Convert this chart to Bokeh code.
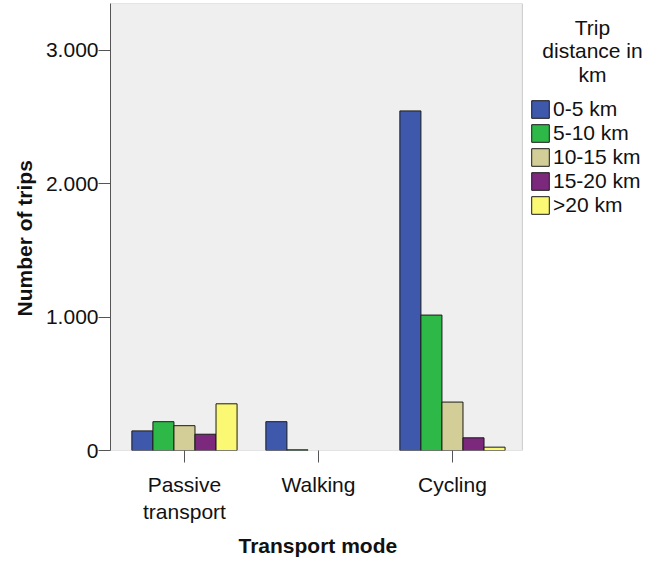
from bokeh.plotting import figure
from bokeh.models import (Range1d, FixedTicker, Legend, LegendItem, Label,
                          ColumnDataSource, BoxAnnotation, Title)
from bokeh.embed import file_html
from bokeh.resources import INLINE

# ---- data ----
categories = ["Passive\ntransport", "Walking", "Cycling"]
series = ["0-5 km", "5-10 km", "10-15 km", "15-20 km", ">20 km"]
v_0_5 = [147, 216, 2545]
v_5_10 = [216, 5, 1015]
v_10_15 = [186, 0, 363]
v_15_20 = [122, 0, 95]
v_20 = [350, 0, 25]
y_ticks = [0, 1000, 2000, 3000]
y_tick_labels = ["0", "1.000", "2.000", "3.000"]
legend_title = ["Trip", "distance in", "km"]

values = [v_0_5, v_5_10, v_10_15, v_15_20, v_20]
colors = ["#3E58AC", "#2EB848", "#D3CE97", "#7C287D", "#FBF873"]

FONT = "Liberation Sans"
FS = "21px"

X0, X1 = -0.552, 2.522          # extent of the grey plot area
px_per_unit = 134.0
frame_w = 547
p = figure(width=657, height=561, output_backend="svg", toolbar_location=None,
           x_range=Range1d(X0, X0 + frame_w / px_per_unit), y_range=Range1d(0, 3350),
           min_border_left=110, min_border_right=0, min_border_top=3,
           min_border_bottom=109)

p.background_fill_color = "white"
p.border_fill_color = "white"
p.outline_line_color = None
p.xgrid.visible = False
p.ygrid.visible = False

p.add_layout(BoxAnnotation(left=X0, right=X1, bottom=0, fill_color="#EFEFEF",
                           fill_alpha=1, line_color="#666666", line_width=1,
                           level="underlay"))

bw = 0.157
n = len(series)
renderers = []
for k, (name, vals, col) in enumerate(zip(series, values, colors)):
    off = (k - (n - 1) / 2) * bw
    # zero counts are not drawn (as in the original)
    tops = [v if v > 0 else float("nan") for v in vals]
    src = ColumnDataSource(dict(x=[i + off for i in range(len(categories))], top=tops))
    r = p.vbar(x="x", top="top", bottom=0, width=bw, source=src,
               fill_color=col, line_color="#1a1a1a", line_width=1)
    renderers.append((name, r))

# axes
for ax in (p.xaxis[0], p.yaxis[0]):
    ax.axis_line_color = "#555555"
    ax.major_tick_line_color = "#555555"
    ax.minor_tick_line_color = None
    ax.major_tick_in = 0
    ax.major_tick_out = 12
    ax.major_label_text_font = FONT
    ax.major_label_text_font_size = FS
    ax.major_label_text_color = "#111111"

p.xaxis.axis_line_color = None
p.xaxis.ticker = FixedTicker(ticks=list(range(len(categories))))
p.xaxis.major_label_overrides = {i: c for i, c in enumerate(categories)}
p.xaxis.major_label_standoff = 10

p.add_layout(Title(text="Transport mode", align="left", offset=128, standoff=10,
                   text_font=FONT, text_font_size=FS, text_font_style="bold",
                   text_color="#111111"), "below")

p.yaxis.ticker = FixedTicker(ticks=y_ticks)
p.yaxis.major_label_overrides = {t: l for t, l in zip(y_ticks, y_tick_labels)}
p.yaxis.major_label_standoff = 0

p.add_layout(Title(text="Number of trips", align="left", offset=134, standoff=14,
                   text_font=FONT, text_font_size=FS, text_font_style="bold",
                   text_color="#111111"), "left")

legend = Legend(items=[LegendItem(label=nm, renderers=[r]) for nm, r in renderers],
                location=(419, 233), padding=0, margin=0, spacing=0,
                glyph_width=22, glyph_height=22, label_standoff=2, label_height=22,
                label_text_font=FONT, label_text_font_size=FS,
                label_text_color="#111111",
                border_line_color=None, background_fill_alpha=0)
p.add_layout(legend)

title_baselines = [423, 400, 376]
for t, yb in zip(legend_title, title_baselines):
    p.add_layout(Label(x=482, y=yb, x_units="screen", y_units="screen",
                       text=t, text_align="center", text_baseline="alphabetic",
                       text_font=FONT, text_font_size=FS, text_color="#111111"))

open("out.html", "w").write(file_html(p, INLINE))
